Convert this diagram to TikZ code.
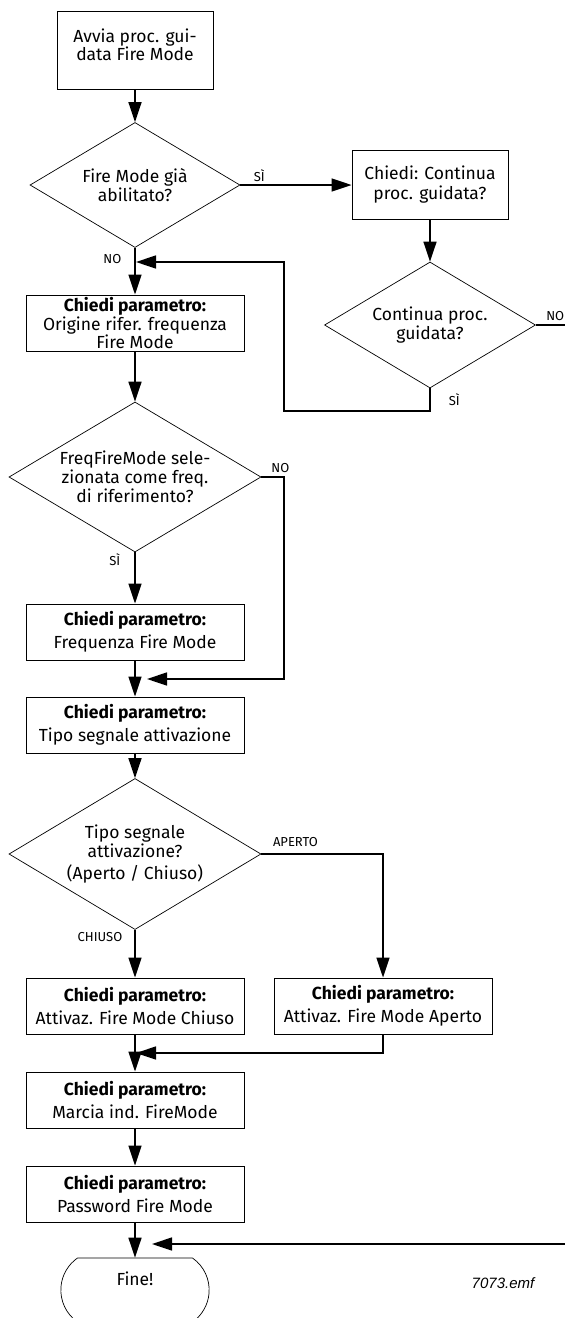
\documentclass[tikz,border=0pt]{standalone}
\usepackage{fontspec}
\setmainfont{Fira Sans}
\newfontfamily\emffont{Liberation Sans}
\usetikzlibrary{shapes.geometric,shapes.misc,arrows.meta}

\begin{document}
\begin{tikzpicture}[x=1pt,y=-1pt,
    box/.style={draw, line width=0.9pt, minimum width=218pt, minimum height=56pt,
        inner sep=0pt, align=center, font=\fontsize{17.5}{23}\selectfont},
    dec/.style={draw, diamond, aspect=1.7, line width=0.7pt, inner sep=0pt,
        align=center, font=\fontsize{17.5}{19}\selectfont},
    flow/.style={line width=1.5pt, -{Triangle[length=20pt,width=13pt]}},
    lbl/.style={font=\fontsize{13}{14}\selectfont, inner sep=1pt}]
    \useasboundingbox (0,0) rectangle (565,1318);
    \clip (0,0) rectangle (565,1318);

    % blocks
    \node[box, minimum width=156pt, minimum height=78pt,
        font=\fontsize{17.5}{17}\selectfont] (start) at (135,50) {Avvia proc. gui-\\data Fire Mode\\[-6pt]\mbox{}};
    \node[dec, minimum width=210pt, minimum height=125pt] (d1) at (135,185) {Fire Mode già\\abilitato?};
    \node[box, minimum width=156pt, minimum height=69pt,
        font=\fontsize{17.5}{20}\selectfont] (b2) at (430,185) {Chiedi: Continua\\proc. guidata?};
    \node[dec, minimum width=211pt, minimum height=126pt] (d2) at (430,325) {Continua proc.\\guidata?};
    \node[box, font=\fontsize{17.5}{17}\selectfont] (b3) at (135,323)
        {\textbf{Chiedi parametro:}\\Origine rifer. frequenza\\Fire Mode};
    \node[dec, minimum width=252pt, minimum height=150pt] (d3) at (135,477)
        {FreqFireMode sele-\\zionata come freq.\\di riferimento?};
    \node[box] (b4) at (135,632) {\textbf{Chiedi parametro:}\\Frequenza Fire Mode};
    \node[box] (b5) at (135,725) {\textbf{Chiedi parametro:}\\Tipo segnale attivazione};
    \node[dec, minimum width=252pt, minimum height=151pt] (d4) at (135,854)
        {Tipo segnale\\attivazione?\\[3pt](Aperto / Chiuso)};
    \node[box] (b6) at (135,1006) {\textbf{Chiedi parametro:}\\Attivaz. Fire Mode Chiuso};
    \node[box] (b7) at (383,1006) {\textbf{Chiedi parametro:}\\Attivaz. Fire Mode Aperto};
    \node[box] (b8) at (135,1100) {\textbf{Chiedi parametro:}\\Marcia ind. FireMode};
    \node[box] (b9) at (135,1194) {\textbf{Chiedi parametro:}\\Password Fire Mode};
    \node[draw, rounded rectangle, rounded rectangle arc length=110, line width=0.7pt,
        minimum width=155pt, minimum height=64pt] (fine) at (135,1290) {};
    \node[font=\fontsize{17.5}{20}\selectfont] (finetxt) at ([yshift=11pt]fine.center) {Fine!};
    \node[font=\emffont\itshape\fontsize{15}{17}\selectfont] (emf) at (503,1283) {7073.emf};

    % junctions
    \coordinate (j1) at (135,262);
    \coordinate (loopL) at (284,411);
    \coordinate (noC) at (284,679);
    \coordinate (j2) at (135,679);
    \coordinate (j3) at (135,1053);
    \coordinate (j4) at (135,1244);
    \coordinate (edgeR) at (580,325);

    % connectors
    \draw[flow] (start.south) -- (d1.north);
    \draw[flow] (d1.east) -- node[lbl, above=2pt, pos=0.17] {SÌ} (b2.west);
    \draw[flow] (b2.south) -- (d2.north);
    \draw[flow] (d1.south) -- node[lbl, left=12pt, pos=0.23] {NO} (b3.north);
    \draw[flow, shorten >=1pt] (d2.south) |- node[lbl, right=17pt, pos=0.25] {SÌ} (loopL) |- (j1);
    \draw[flow, shorten >=17pt] (d2.east) -- node[lbl, above=3pt, pos=0.44] {NO} (edgeR) |- (j4);
    \draw[flow] (b3.south) -- (d3.north);
    \draw[flow] (d3.south) -- node[lbl, left=13pt, pos=0.14] {SÌ} (b4.north);
    \draw[flow, shorten >=12pt] (d3.east) -| node[lbl, above=3pt, pos=0.42] {NO} (noC) -- (j2);
    \draw[flow] (b4.south) -- (b5.north);
    \draw[flow] (b5.south) -- (d4.north);
    \draw[flow] (d4.south) -- node[lbl, left=11pt, pos=0.14] {CHIUSO} (b6.north);
    \draw[flow] (d4.east) -| node[lbl, above=6pt, pos=0.14] {APERTO} (b7.north);
    \draw[flow, shorten >=1pt] (b7.south) |- (j3);
    \draw[flow] (b6.south) -- (b8.north);
    \draw[flow] (b8.south) -- (b9.north);
    \draw[flow] (b9.south) -- (fine.north);
\end{tikzpicture}
\end{document}
